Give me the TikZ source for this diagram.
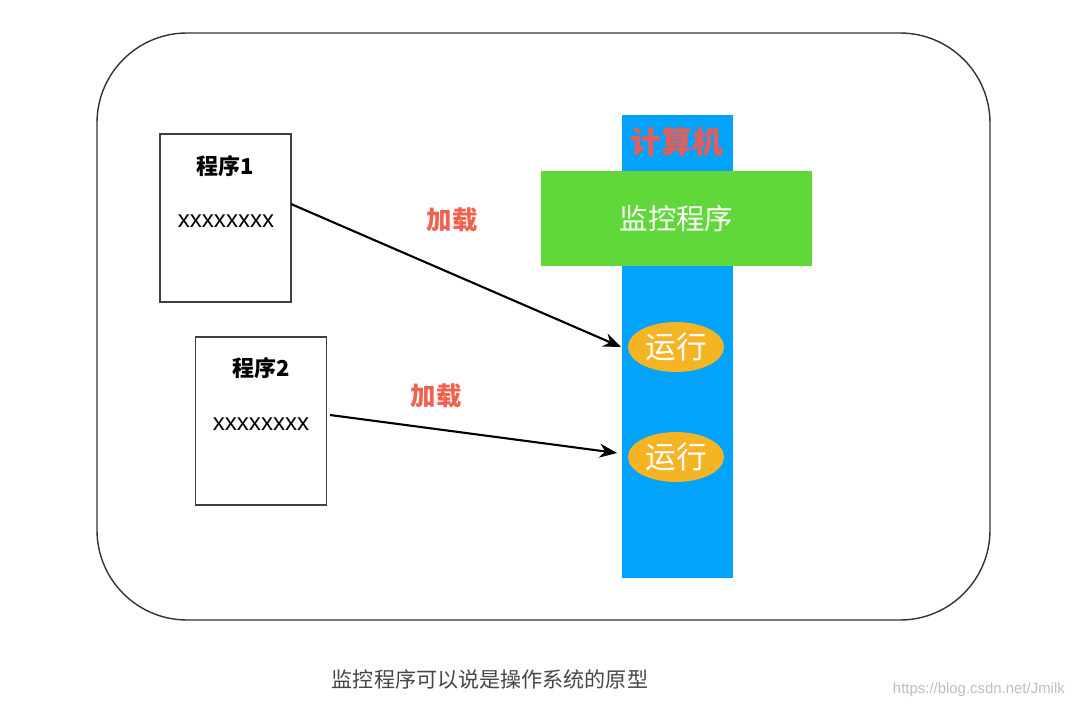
\documentclass[tikz,border=0pt]{standalone}
\usepackage{fontspec}
\setmainfont{Liberation Sans}
\newfontfamily\cjk{Noto Sans CJK SC}
\newfontfamily\cjkmed{Noto Sans CJK SC Medium}
\usetikzlibrary{shapes.geometric,arrows.meta}
\definecolor{barblue}{RGB}{3,163,252}
\definecolor{mongreen}{RGB}{96,216,58}
\definecolor{runorange}{RGB}{245,180,35}
\definecolor{loadred}{RGB}{242,96,78}
\definecolor{pcred}{RGB}{232,92,88}
\definecolor{captiongray}{RGB}{70,70,70}
\begin{document}
\begin{tikzpicture}[x=0.02cm,y=-0.02cm,
  progbox/.style={draw=black!75,line width=0.8pt,fill=white,minimum width=131*0.02cm,minimum height=168*0.02cm,inner sep=0pt},
  runell/.style={ellipse,fill=runorange,minimum width=96*0.02cm,minimum height=50*0.02cm,inner sep=0pt,text=white,font=\cjk\fontsize{17.5}{17.5}\selectfont},
  loadlbl/.style={text=loadred,font=\cjk\bfseries\fontsize{14.5}{14.5}\selectfont},
  arr/.style={line width=1.2pt,-{Stealth[length=10pt,width=8pt]}}
]
\useasboundingbox (0,0) rectangle (1080,706);
\fill[white] (0,0) rectangle (1080,706);
% outer frame
\draw[line width=0.8pt,rounded corners=90*0.02cm,black!80] (97,33) rectangle (990,620);
% computer bar
\node[fill=barblue,minimum width=111*0.02cm,minimum height=463*0.02cm,inner sep=0pt] (bar) at (677.5,346.5) {};
\node[text=pcred,font=\cjk\bfseries\fontsize{17.5}{17.5}\selectfont] (pc) at (677,142) {计算机};
\node[fill=mongreen,minimum width=271*0.02cm,minimum height=95*0.02cm,inner sep=0pt,text=white,font=\cjk\fontsize{16.2}{16.2}\selectfont] (mon) at (676.5,218.5) {监控程序};
\node[runell] (run1) at (676,347) {运行};
\node[runell] (run2) at (676,457) {运行};
% programs
\node[progbox] (p1) at (225.5,218) {};
\node[font=\cjk\bfseries\fontsize{12.5}{12.5}\selectfont] (p1t) at (225,166) {程序1};
\node[font=\fontsize{13.7}{13.7}\selectfont] (p1x) at (226,221) {xxxxxxxx};
\node[progbox] (p2) at (261,421) {};
\node[font=\cjk\bfseries\fontsize{12.5}{12.5}\selectfont] (p2t) at (261,368) {程序2};
\node[font=\fontsize{13.7}{13.7}\selectfont] (p2x) at (261,424) {xxxxxxxx};
% arrows
\coordinate (a1s) at (291,204);
\coordinate (a1e) at (621,347);
\coordinate (a2s) at (330,415);
\coordinate (a2e) at (617,453);
\draw[arr] (a1s) -- (a1e);
\draw[arr] (a2s) -- (a2e);
\node[loadlbl] (l1) at (452,220) {加载};
\node[loadlbl] (l2) at (436,396) {加载};
% caption
\node[text=captiongray,font=\cjk\fontsize{12}{12}\selectfont] (cap) at (490,679) {监控程序可以说是操作系统的原型};
\node[text=black!25,font=\fontsize{8.5}{8.5}\selectfont,anchor=east] (wm) at (1071,690) {https://blog.csdn.net/Jmilk};
\end{tikzpicture}
\end{document}
